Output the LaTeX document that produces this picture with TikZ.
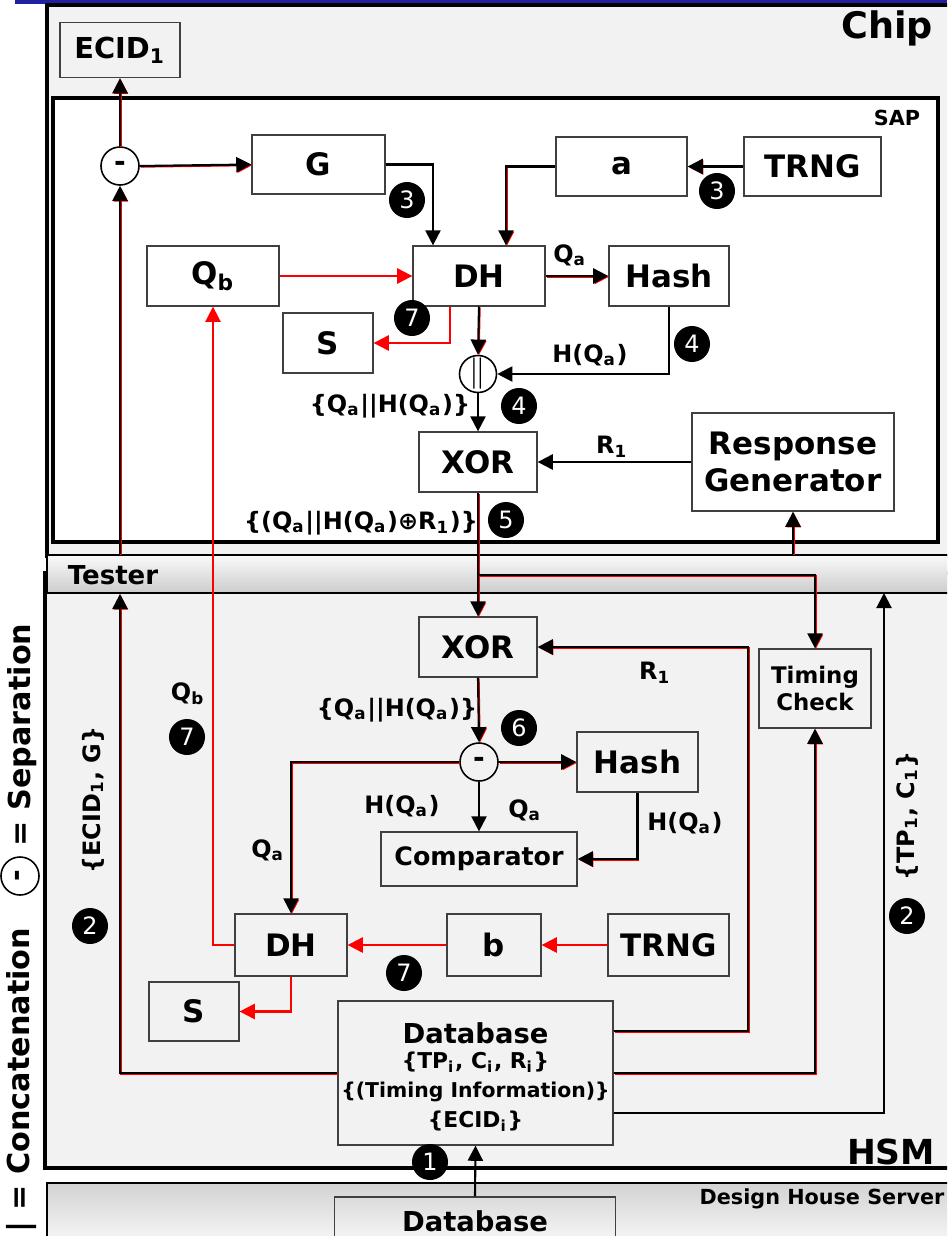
\documentclass[tikz,border=0pt]{standalone}
\usepackage{fontspec}
\setmainfont{DejaVu Sans}
\usetikzlibrary{arrows.meta}
\definecolor{bgray}{RGB}{242,242,242}
\definecolor{topblue}{RGB}{32,32,160}

\tikzset{
  box/.style={draw=black!75, line width=0.35pt, fill=white, inner sep=0pt,
    font=\bfseries\fontsize{8.8}{10.5}\selectfont},
  hbox/.style={box, fill=bgray},
  opcirc/.style={circle, draw=black, line width=0.45pt, fill=white,
    minimum size=0.38cm, inner sep=0pt, font=\bfseries\fontsize{8}{8}\selectfont},
  badge/.style={circle, fill=black, text=white, minimum size=0.36cm,
    inner sep=0pt, font=\fontsize{6.8}{6.8}\selectfont},
  lbl/.style={inner sep=0pt, font=\bfseries\fontsize{6.8}{8}\selectfont},
  title/.style={inner sep=0pt, font=\bfseries\fontsize{#1}{#1}\selectfont},
  wire/.style={line width=0.6pt, -{Triangle[length=4.3pt,width=4.3pt]}},
  rwire/.style={wire, preaction={draw=red, transform canvas={shift={(0.28pt,-0.28pt)}}}},
  redwire/.style={wire, red},
}

\begin{document}
\begin{tikzpicture}[x=0.01cm, y=-0.01cm]
    \useasboundingbox (0,0) rectangle (947,1236);
    \clip (0,0) rectangle (947,1236);

    % Frames
    \fill[topblue] (15,0) rectangle (947,3.5);
    \draw[line width=0.9pt, fill=bgray] (47,5) rectangle (952,556);
    \draw[line width=0.9pt, fill=white] (53,98) rectangle (938,542);
    \draw[line width=0.9pt, fill=bgray] (45,573) rectangle (952,1168);
    \shade[top color=gray!35, bottom color=gray!5] (47,1183) rectangle (952,1245);
    \draw[line width=0.4pt] (47,1245) |- (952,1183);
    \node[draw=black, line width=0.5pt, top color=gray!4, bottom color=gray!40,
      minimum width=9.05cm, minimum height=0.38cm, inner sep=0pt] (tester) at (499.5,574) {};

    \node[title=10.4] (chiplbl) at (887,28) {Chip};
    \node[title=5.9] (saplbl) at (897,118) {SAP};
    \node[title=9.8] (hsmlbl) at (891,1152) {HSM};
    \node[title=5.9] (dhslbl) at (822,1199) {Design House Server};
    \node[title=7.4] (testerlbl) at (113,575) {Tester};

    % Chip / SAP
    \node[hbox, minimum width=1.2cm, minimum height=0.55cm,
      font=\bfseries\fontsize{8.2}{10}\selectfont] (ecid) at (120,50) {ECID\textsubscript{1}};
    \node[opcirc] (sepA) at (120,166) {-};
    \node[box, minimum width=1.33cm, minimum height=0.59cm] (gbox) at (318.5,164.5) {G};
    \node[box, minimum width=1.31cm, minimum height=0.59cm] (abox) at (621.5,166.5) {a};
    \node[box, minimum width=1.37cm, minimum height=0.59cm] (trngA) at (812.5,166.5) {TRNG};
    \node[box, minimum width=1.32cm, minimum height=0.60cm] (qb) at (213,276) {Q\textsubscript{b}};
    \node[box, minimum width=1.32cm, minimum height=0.60cm] (dhA) at (479,276) {DH};
    \node[box, minimum width=1.20cm, minimum height=0.60cm] (hashA) at (669,276) {Hash};
    \node[box, minimum width=0.90cm, minimum height=0.60cm] (sA) at (328,343) {S};
    \node[opcirc, minimum size=0.37cm, font=\fontsize{9}{9}\selectfont] (catA) at (478,374) {$\|$};
    \node[box, minimum width=1.18cm, minimum height=0.60cm] (xorA) at (478,462) {XOR};
    \node[box, minimum width=2.02cm, minimum height=0.98cm, align=center] (resp) at (793,462) {Response\\Generator};

    % HSM
    \node[hbox, minimum width=1.18cm, minimum height=0.60cm] (xorB) at (478,647) {XOR};
    \node[hbox, minimum width=1.12cm, minimum height=0.79cm, align=center,
      font=\bfseries\fontsize{6.5}{7.7}\selectfont] (timing) at (815,688.5) {Timing\\Check};
    \node[opcirc, fill=bgray] (sepB) at (479,762) {-};
    \node[hbox, minimum width=1.21cm, minimum height=0.60cm] (hashB) at (637.5,762) {Hash};
    \node[hbox, minimum width=1.96cm, minimum height=0.54cm,
      font=\bfseries\fontsize{7.2}{8}\selectfont] (comp) at (479,859) {Comparator};
    \node[hbox, minimum width=1.12cm, minimum height=0.62cm] (dhB) at (291,945) {DH};
    \node[hbox, minimum width=0.94cm, minimum height=0.62cm] (bbox) at (494,945) {b};
    \node[hbox, minimum width=1.21cm, minimum height=0.62cm] (trngB) at (668.5,945) {TRNG};
    \node[hbox, minimum width=0.90cm, minimum height=0.59cm] (sB) at (194,1011.5) {S};
    \node[hbox, minimum width=2.75cm, minimum height=1.44cm] (dbB) at (475.5,1073) {};
    \node[title=7.8] (dbtitle) at (475.5,1033) {Database};
    \node[title=6.2] (dbtpc) at (475.5,1062) {\{TP\textsubscript{i}, C\textsubscript{i}, R\textsubscript{i}\}};
    \node[title=5.8] (dbtime) at (475.5,1092) {\{(Timing Information)\}};
    \node[title=6.2] (dbecid) at (475.5,1121) {\{ECID\textsubscript{i}\}};

    % Design House Server
    \node[box, fill=none, minimum width=2.81cm, minimum height=0.48cm,
      font=\bfseries\fontsize{7.8}{9}\selectfont] (dbD) at (475,1221) {Database};

    % Connectors, chip
    \draw[rwire] (sepA.north) -- (ecid.south);
    \draw[rwire] (sepA.east) -- (gbox.west);
    \draw[wire] (gbox.east) -| ([xshift=-0.46cm]dhA.north);
    \draw[rwire] (trngA.west) -- (abox.east);
    \draw[rwire] (abox.west) -| ([xshift=0.27cm]dhA.north);
    \draw[redwire] (qb.east) -- (dhA.west);
    \draw[rwire] (dhA.east) -- (hashA.west);
    \draw[redwire] ([xshift=-0.29cm]dhA.south) |- (sA.east);
    \draw[rwire] (dhA.south) -- (catA.north);
    \draw[wire] (hashA.south) |- (catA.east);
    \draw[wire] (catA.south) -- (xorA.north);
    \draw[wire] (resp.west) -- (xorA.east);

    % Connectors, tester
    \coordinate (split) at (478,575);
    \coordinate (tpin) at (884,593);
    \coordinate (r1c) at (748,647);
    \draw[rwire] (xorA.south) -- (xorB.north);
    \draw[rwire] (split) -| (timing.north);
    \draw[rwire] (resp.south |- tester.north) -- (resp.south);
    \draw[rwire] (sepA |- tester.north) -- (sepA.south);
    \draw[rwire] (dbB.west) -| (sepA |- tester.south);
    \draw[wire] ([yshift=-0.4cm]dbB.east) -| (tpin);

    % Connectors, HSM
    \draw[rwire] (dbB.east) -| (timing.south);
    \draw[rwire] ([yshift=0.42cm]dbB.east) -| (r1c) -- (xorB.east);
    \draw[rwire] (xorB.south) -- (sepB.north);
    \draw[rwire] (sepB.east) -- (hashB.west);
    \draw[rwire] (hashB.south) |- (comp.east);
    \draw[wire] (sepB.south) -- (comp.north);
    \draw[rwire] (sepB.west) -| (dhB.north);
    \draw[redwire] (trngB.west) -- (bbox.east);
    \draw[redwire] (bbox.west) -- (dhB.east);
    \draw[redwire] (dhB.south) |- (sB.east);
    \draw[redwire, line width=0.45pt] (dhB.west) -| (qb.south);
    \draw[wire] (dbD.north) -- (dbB.south);

    % Labels
    \node[lbl] (l1) at (570,255) {Q\textsubscript{a}};
    \node[lbl] (l2) at (590,355) {H(Q\textsubscript{a})};
    \node[lbl] (l3) at (390,406) {\{Q\textsubscript{a}||H(Q\textsubscript{a})\}};
    \node[lbl] (l4) at (612,447) {R\textsubscript{1}};
    \node[lbl] (l5) at (361,523) {\{(Q\textsubscript{a}||H(Q\textsubscript{a})⊕R\textsubscript{1})\}};
    \node[lbl] (l6) at (655,673) {R\textsubscript{1}};
    \node[lbl] (l7) at (397,710) {\{Q\textsubscript{a}||H(Q\textsubscript{a})\}};
    \node[lbl] (l8) at (402,806) {H(Q\textsubscript{a})};
    \node[lbl] (l9) at (525,810) {Q\textsubscript{a}};
    \node[lbl] (l10) at (685,823) {H(Q\textsubscript{a})};
    \node[lbl] (l11) at (268,850) {Q\textsubscript{a}};
    \node[lbl] (l12) at (188,694) {Q\textsubscript{b}};
    \node[lbl, rotate=90] (l13) at (93,800) {\{ECID\textsubscript{1}, G\}};
    \node[lbl, rotate=90] (l14) at (907,816) {\{TP\textsubscript{1}, C\textsubscript{1}\}};

    % Steps
    \node[badge] (s3a) at (407,200) {3};
    \node[badge] (s3b) at (717,191) {3};
    \node[badge] (s7a) at (412,318) {7};
    \node[badge] (s4a) at (692,344) {4};
    \node[badge] (s4b) at (519,406) {4};
    \node[badge] (s5) at (506,520) {5};
    \node[badge] (s6) at (519,728) {6};
    \node[badge] (s7b) at (187,737) {7};
    \node[badge] (s2a) at (90,926) {2};
    \node[badge] (s2b) at (907,916) {2};
    \node[badge] (s7c) at (404,973) {7};
    \node[badge] (s1) at (430,1162) {1};

    % Legend
    \node[title=8.6, rotate=90] (legcat) at (22,1080) {| = Concatenation};
    \node[opcirc, rotate=90] (legsep) at (20,876) {-};
    \node[title=8.6, rotate=90] (legsepl) at (22,735) {= Separation};

\end{tikzpicture}
\end{document}
